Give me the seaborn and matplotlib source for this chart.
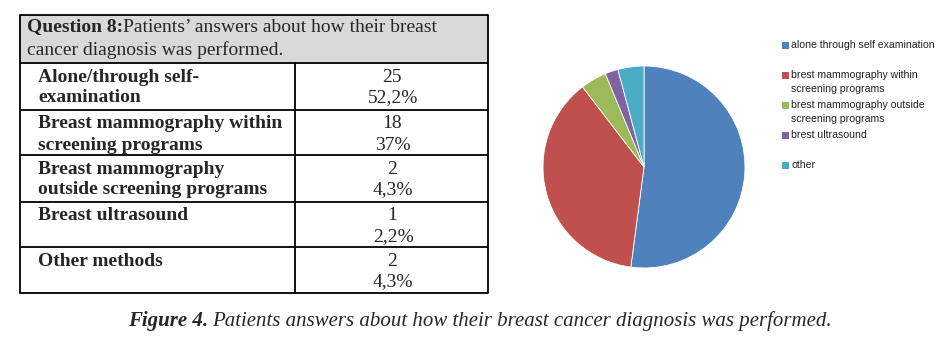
import matplotlib
matplotlib.use("Agg")
import matplotlib.pyplot as plt
import seaborn as sns
from matplotlib.patches import Rectangle

sns.set_style("white")
plt.rcParams['font.family'] = ['Liberation Serif', 'DejaVu Sans']

# ---- data ----
table_rows = ["Alone/through self-\nexamination",
              "Breast mammography within\nscreening programs",
              "Breast mammography\noutside screening programs",
              "Breast ultrasound",
              "Other methods"]
counts = [25, 18, 2, 1, 2]
percents = ["52,2%", "37%", "4,3%", "2,2%", "4,3%"]
legend_labels = ["alone through self examination",
                 "brest mammography within\nscreening programs",
                 "brest mammography outside\nscreening programs",
                 "brest ultrasound",
                 "other"]
colors = sns.color_palette(["#4F81BD", "#C0504D", "#9BBB59", "#8064A2", "#4BACC6"])

W, H = 951, 339
fig = plt.figure(figsize=(W / 100, H / 100), dpi=100)
fig.patch.set_facecolor("white")

# full-figure axes in pixel coordinates (y down)
bg = fig.add_axes([0, 0, 1, 1])
bg.set_xlim(0, W)
bg.set_ylim(H, 0)
bg.axis("off")

# ---- table ----
tl, tr, tc = 20, 488, 295
top, head_b = 15, 63
row_h = [47, 45, 47, 45, 46]
bg.add_patch(Rectangle((tl, top), tr - tl, head_b - top, facecolor="#D9D9D9", edgecolor="none"))
fs = 14.0
t0 = bg.text(27, 27, "Question 8:", fontsize=fs, fontweight="bold", va="center", ha="left")
fig.canvas.draw()
r = fig.canvas.get_renderer()
bb = t0.get_window_extent(r)
bg.text(bb.x1, 27, "Patients’ answers about how their breast", fontsize=fs, va="center", ha="left")
bg.text(27, 50, "cancer diagnosis was performed.", fontsize=fs, va="center", ha="left")

y = head_b
ys = [top, head_b]
for i, name in enumerate(table_rows):
    lines = name.split("\n")
    for j, ln in enumerate(lines):
        bg.text(38, y + 14 + 21 * j, ln, fontsize=fs, fontweight="bold", va="center", ha="left")
    bg.text(392, y + 14, str(counts[i]), fontsize=fs, va="center", ha="center")
    bg.text(393, y + 35, percents[i], fontsize=fs, va="center", ha="center")
    y += row_h[i]
    ys.append(y)

lw = 1.3
for yy in ys:
    bg.plot([tl, tr], [yy, yy], color="black", lw=lw, solid_capstyle="butt")
bg.plot([tl, tl], [top, ys[-1]], color="black", lw=lw)
bg.plot([tr, tr], [top, ys[-1]], color="black", lw=lw)
bg.plot([tc, tc], [head_b, ys[-1]], color="black", lw=lw)

# ---- pie ----
cx, cy, rad = 644, 167, 102
pax = fig.add_axes([(cx - rad) / W, (H - cy - rad) / H, 2 * rad / W, 2 * rad / H])
pax.pie(counts, colors=colors, startangle=90, counterclock=False,
        wedgeprops=dict(linewidth=0.6, edgecolor="white"))
pax.set_xlim(-1.01, 1.01)
pax.set_ylim(-1.01, 1.01)
pax.set_aspect("equal")
pax.axis("off")

# ---- legend ----
for i, (lab, c) in enumerate(zip(legend_labels, colors)):
    yy = 45 + 30 * i
    bg.add_patch(Rectangle((782, yy - 3.5), 7, 7, facecolor=c, edgecolor="none"))
    bg.text(791, yy - 5, lab, fontsize=7.6, family=["Liberation Sans", "DejaVu Sans"],
            va="top", ha="left", linespacing=1.55, color="#222222")

# ---- caption ----
cfs = 15
c1 = bg.text(128, 321, "Figure 4.", fontsize=cfs, fontweight="bold", fontstyle="italic",
             va="center", ha="left")
fig.canvas.draw()
bb = c1.get_window_extent(fig.canvas.get_renderer())
bg.text(bb.x1 + 4, 321, "Patients answers about how their breast cancer diagnosis was performed.",
        fontsize=cfs, fontstyle="italic", va="center", ha="left")

fig.savefig("out.png", dpi=100, facecolor="white")
